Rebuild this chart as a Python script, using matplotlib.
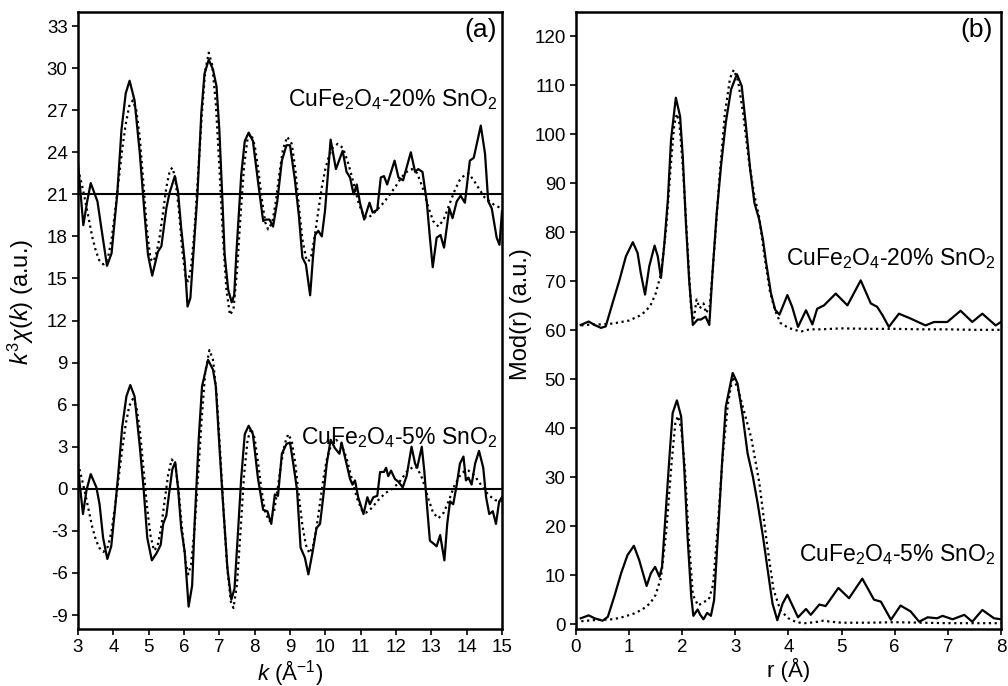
import numpy as np
import matplotlib
matplotlib.use("Agg")
import matplotlib.pyplot as plt

plt.rcParams['font.family'] = ['Liberation Sans', 'DejaVu Sans']
plt.rcParams['mathtext.fontset'] = 'custom'
plt.rcParams['mathtext.rm'] = 'Liberation Sans'
plt.rcParams['mathtext.it'] = 'Liberation Sans:italic'
plt.rcParams['axes.unicode_minus'] = False

"""Panel (a): k^3 chi(k), 20% curve shifted up by 21"""
offset20 = 21

k20_exp = [3.0, 3.15, 3.26, 3.36, 3.55, 3.66, 3.82, 3.95, 4.04, 4.11, 4.23, 4.35, 4.46, 4.6, 4.75, 4.87,
           4.98, 5.1, 5.26, 5.36, 5.5, 5.59, 5.74, 5.83, 5.92, 6.02, 6.1, 6.18, 6.25, 6.38, 6.49, 6.58,
           6.7, 6.82, 6.92, 7.0, 7.08, 7.15, 7.25, 7.35, 7.42, 7.48, 7.62, 7.72, 7.83, 7.95, 8.09, 8.24,
           8.33, 8.42, 8.52, 8.64, 8.77, 8.9, 9.0, 9.14, 9.25, 9.35, 9.45, 9.57, 9.65, 9.71, 9.8, 9.9,
           9.99, 10.15, 10.3, 10.49, 10.6, 10.7, 10.8, 10.89, 10.98, 11.1, 11.25, 11.34, 11.47, 11.57,
           11.66, 11.75, 11.96, 12.07, 12.2, 12.42, 12.54, 12.63, 12.75, 12.87, 12.96, 13.04, 13.15,
           13.26, 13.36, 13.51, 13.6, 13.72, 13.83, 13.95, 14.09, 14.2, 14.4, 14.52, 14.61, 14.71,
           14.85, 14.93, 15.0]
chi20_exp = [23.2, 18.8, 20.5, 21.8, 20.5, 18.6, 15.9, 16.8, 19.2, 21.0, 25.6, 28.2, 29.1, 27.7, 23.9,
             20.0, 16.7, 15.2, 16.9, 17.3, 20.0, 21.1, 22.3, 21.2, 18.6, 16.2, 13.0, 13.6, 16.2, 21.0,
             26.8, 29.6, 30.6, 29.9, 28.7, 25.6, 21.0, 16.7, 14.2, 13.3, 13.8, 16.7, 22.4, 24.8, 25.4,
             24.8, 22.0, 19.1, 19.2, 19.2, 18.7, 20.5, 23.4, 24.5, 24.5, 22.0, 19.5, 16.5, 16.0, 13.8,
             16.5, 18.1, 18.4, 18.0, 19.8, 24.9, 22.8, 24.1, 22.6, 22.2, 21.0, 21.7, 20.4, 19.2, 20.4,
             19.7, 19.9, 22.2, 22.3, 21.7, 23.4, 22.2, 22.0, 24.0, 22.6, 22.8, 22.6, 20.5, 17.9, 15.8,
             17.9, 18.1, 17.2, 20.0, 19.3, 20.5, 20.9, 20.4, 23.4, 23.6, 25.9, 23.9, 20.5, 20.0, 17.9,
             17.4, 19.8]

k20_fit = [3.0, 3.1, 3.2, 3.3, 3.4, 3.5, 3.6, 3.72, 3.85, 3.95, 4.05, 4.15, 4.25, 4.35, 4.45, 4.55,
           4.65, 4.75, 4.85, 4.95, 5.05, 5.12, 5.2, 5.3, 5.4, 5.5, 5.6, 5.67, 5.75, 5.85, 5.95, 6.05,
           6.12, 6.2, 6.3, 6.4, 6.5, 6.6, 6.7, 6.8, 6.9, 7.0, 7.1, 7.2, 7.3, 7.4, 7.5, 7.6, 7.7, 7.8,
           7.9, 8.0, 8.1, 8.2, 8.3, 8.38, 8.5, 8.6, 8.7, 8.8, 8.92, 9.05, 9.15, 9.25, 9.35, 9.45, 9.52,
           9.6, 9.7, 9.8, 9.9, 10.0, 10.1, 10.2, 10.35, 10.5, 10.65, 10.8, 10.95, 11.1, 11.2, 11.35,
           11.5, 11.65, 11.8, 12.0, 12.15, 12.3, 12.45, 12.6, 12.75, 12.9, 13.05, 13.2, 13.35, 13.5,
           13.65, 13.8, 13.95, 14.05, 14.2, 14.35, 14.5, 14.65, 14.8, 15.0]
chi20_fit = [22.8, 21.8, 20.6, 19.3, 18.0, 17.0, 16.3, 16.0, 16.5, 17.8, 19.8, 22.0, 24.2, 26.0, 27.3,
             27.7, 27.0, 25.0, 21.8, 18.5, 16.4, 16.2, 16.6, 17.8, 19.6, 21.5, 22.7, 22.9, 22.2, 20.0,
             17.0, 15.0, 14.8, 15.8, 18.5, 22.5, 26.5, 29.8, 31.1, 30.2, 27.5, 23.0, 18.0, 14.2, 12.4,
             12.8, 15.5, 19.5, 23.0, 25.0, 25.3, 24.5, 22.8, 20.7, 19.0, 18.5, 19.0, 20.5, 22.5, 24.2,
             25.1, 24.6, 22.8, 20.2, 17.8, 16.5, 16.2, 16.6, 18.0, 19.8, 21.5, 22.8, 23.7, 24.3, 24.6,
             24.3, 23.2, 21.8, 20.3, 19.4, 19.3, 19.6, 20.0, 20.4, 20.9, 21.6, 22.2, 22.6, 22.8, 22.5,
             21.5, 20.2, 19.1, 18.7, 19.2, 20.2, 21.2, 22.0, 22.4, 22.5, 22.0, 21.4, 20.8, 20.5, 20.2,
             20.0]

k5_exp = [3.0, 3.14, 3.24, 3.36, 3.52, 3.61, 3.71, 3.83, 3.94, 4.04, 4.13, 4.25, 4.37, 4.48, 4.6,
          4.75, 4.86, 4.96, 5.09, 5.22, 5.34, 5.41, 5.5, 5.59, 5.67, 5.75, 5.83, 5.92, 6.02, 6.13,
          6.23, 6.3, 6.42, 6.51, 6.68, 6.82, 6.9, 7.01, 7.1, 7.23, 7.34, 7.43, 7.53, 7.62, 7.72, 7.83,
          7.95, 8.09, 8.24, 8.36, 8.47, 8.57, 8.66, 8.77, 8.9, 9.0, 9.11, 9.2, 9.3, 9.42, 9.52, 9.64,
          9.75, 9.85, 9.94, 10.04, 10.15, 10.27, 10.4, 10.46, 10.58, 10.7, 10.77, 10.84, 10.93, 11.08,
          11.19, 11.26, 11.36, 11.47, 11.55, 11.66, 11.72, 11.78, 11.86, 11.97, 12.07, 12.19, 12.3,
          12.44, 12.54, 12.6, 12.73, 12.8, 12.89, 12.96, 13.06, 13.15, 13.25, 13.37, 13.45, 13.53,
          13.62, 13.72, 13.81, 13.91, 13.98, 14.05, 14.14, 14.24, 14.35, 14.47, 14.55, 14.64, 14.74,
          14.83, 14.92, 15.0]
chi5_exp = [1.5, -1.8, -0.1, 1.05, 0.1, -1.1, -3.5, -5.0, -4.1, -1.6, 0.8, 4.4, 6.6, 7.4, 6.6, 3.0,
            -0.1, -3.5, -5.1, -4.6, -4.0, -2.5, -1.9, -0.1, 1.4, 1.9, 0.1, -2.8, -4.5, -8.4, -6.9,
            -2.5, 3.7, 7.3, 9.2, 8.5, 7.3, 2.7, -0.9, -5.7, -7.9, -7.1, -3.0, 0.8, 3.9, 4.5, 3.9, 0.8,
            -1.5, -1.6, -2.5, -0.4, -0.5, 2.5, 3.2, 3.3, 1.5, -0.1, -4.2, -4.9, -6.1, -4.5, -2.8, -2.5,
            -0.6, 1.8, 3.5, 2.9, 2.5, 3.3, 2.0, 0.7, 0.3, 0.6, -0.6, -1.8, -0.6, -1.1, -0.6, -0.5, 1.2,
            1.2, 1.5, 0.9, 1.3, 0.7, 0.5, 0.1, 0.9, 3.0, 1.8, 1.5, 3.0, 1.3, -1.6, -3.7, -3.9, -4.1,
            -3.3, -5.1, -2.5, -0.9, -1.1, 0.3, 1.8, 2.3, 0.6, 0.8, 0.3, 1.8, 2.7, 1.5, -0.6, -1.8,
            -1.6, -2.5, -0.9, -0.6]

k5_fit = [3.0, 3.1, 3.2, 3.3, 3.4, 3.5, 3.6, 3.72, 3.85, 3.95, 4.05, 4.15, 4.25, 4.35, 4.45, 4.55,
          4.65, 4.75, 4.85, 4.95, 5.05, 5.15, 5.25, 5.35, 5.45, 5.55, 5.65, 5.75, 5.85, 5.95, 6.05,
          6.12, 6.2, 6.3, 6.4, 6.5, 6.6, 6.72, 6.82, 6.92, 7.02, 7.12, 7.22, 7.32, 7.4, 7.5, 7.6,
          7.7, 7.8, 7.9, 8.0, 8.1, 8.2, 8.3, 8.42, 8.55, 8.65, 8.75, 8.85, 8.95, 9.05, 9.15, 9.25,
          9.35, 9.45, 9.55, 9.65, 9.75, 9.85, 9.95, 10.05, 10.15, 10.3, 10.45, 10.6, 10.75, 10.9,
          11.05, 11.15, 11.3, 11.5, 11.7, 11.9, 12.1, 12.3, 12.5, 12.6, 12.75, 12.9, 13.05, 13.2,
          13.35, 13.5, 13.65, 13.8, 13.95, 14.05, 14.2, 14.35, 14.5, 14.65, 14.8, 15.0]
chi5_fit = [1.8, 0.8, -0.3, -1.5, -2.7, -3.6, -4.2, -4.5, -4.1, -3.0, -1.2, 0.8, 2.8, 4.6, 5.9, 6.4,
            5.9, 4.2, 1.5, -1.2, -3.3, -4.4, -4.1, -2.8, -0.9, 1.0, 2.1, 1.8, -0.2, -3.0, -5.3, -6.1,
            -5.4, -2.8, 1.0, 5.0, 8.3, 9.9, 9.2, 6.8, 2.8, -1.6, -5.5, -8.0, -8.5, -6.8, -3.0, 1.0,
            3.5, 4.3, 3.6, 1.8, -0.2, -1.7, -2.3, -1.6, 0.0, 1.8, 3.2, 3.9, 3.4, 1.8, -0.5, -2.6,
            -4.0, -4.6, -4.1, -2.8, -1.0, 0.8, 2.2, 3.0, 3.5, 3.2, 2.2, 0.7, -0.7, -1.6, -1.7, -1.4,
            -0.8, -0.3, 0.0, 0.5, 1.2, 1.6, 1.5, 0.7, -0.6, -1.7, -2.1, -1.7, -0.8, 0.2, 0.9, 1.3,
            1.3, 1.0, 0.5, -0.1, -0.5, -0.8, -0.9]

"""Panel (b): Mod(r), 20% curve already sits on a 60 baseline"""
r20_exp = [0.09, 0.24, 0.35, 0.47, 0.56, 0.69, 0.82, 0.94, 1.07, 1.16, 1.22, 1.3, 1.38, 1.48, 1.54,
           1.6, 1.66, 1.73, 1.79, 1.88, 1.96, 2.01, 2.07, 2.13, 2.2, 2.29, 2.35, 2.44, 2.51, 2.57,
           2.65, 2.73, 2.82, 2.92, 3.03, 3.12, 3.2, 3.28, 3.36, 3.45, 3.52, 3.58, 3.67, 3.75, 3.83,
           3.92, 3.98, 4.07, 4.18, 4.33, 4.45, 4.54, 4.67, 4.89, 5.11, 5.36, 5.55, 5.67, 5.77, 5.89,
           6.08, 6.3, 6.58, 6.74, 6.99, 7.24, 7.46, 7.65, 7.9, 8.0]
mod20_exp = [61.1, 61.8, 61.1, 60.5, 60.8, 65.6, 70.3, 75.1, 78.0, 75.8, 71.7, 67.3, 73.1, 77.3, 75.1,
             70.7, 77.2, 86.7, 99.0, 107.5, 103.7, 95.6, 81.9, 70.3, 61.1, 62.2, 62.2, 62.8, 61.1,
             71.7, 84.0, 93.5, 102.4, 109.2, 112.3, 109.9, 101.7, 92.8, 86.0, 82.6, 78.5, 73.8, 67.6,
             64.2, 63.2, 65.6, 67.2, 64.8, 60.7, 64.1, 61.2, 64.4, 65.1, 67.5, 65.1, 70.2, 65.5, 64.8,
             63.1, 60.7, 63.4, 62.4, 61.0, 61.7, 61.7, 64.0, 61.7, 63.4, 61.0, 61.7]

r20_fit = [0.1, 0.3, 0.5, 0.7, 0.9, 1.0, 1.1, 1.2, 1.3, 1.4, 1.5, 1.6, 1.7, 1.78, 1.85, 1.9, 1.95,
           2.02, 2.1, 2.17, 2.22, 2.27, 2.33, 2.4, 2.45, 2.52, 2.6, 2.7, 2.8, 2.9, 2.97, 3.05, 3.15,
           3.25, 3.35, 3.45, 3.55, 3.65, 3.75, 3.85, 4.0, 4.15, 4.25, 4.4, 4.6, 5.0, 5.5, 6.0, 6.5,
           7.0, 7.5, 8.0]
mod20_fit = [61.0, 61.2, 61.2, 61.4, 61.8, 62.0, 62.5, 63.0, 63.8, 65.0, 67.5, 71.5, 81.0, 93.0,
             102.0, 104.2, 102.0, 92.0, 77.0, 64.0, 62.5, 66.3, 64.5, 65.5, 63.5, 65.0, 76.0, 91.0,
             104.0, 111.5, 113.2, 111.0, 104.0, 95.0, 88.0, 83.0, 75.0, 68.0, 64.0, 61.5, 60.5, 60.0,
             59.8, 60.2, 60.2, 60.4, 60.3, 60.3, 60.2, 60.2, 60.1, 60.1]

r5_exp = [0.09, 0.24, 0.35, 0.5, 0.6, 0.72, 0.85, 0.97, 1.09, 1.19, 1.33, 1.41, 1.49, 1.57, 1.62,
          1.68, 1.76, 1.82, 1.9, 1.98, 2.04, 2.1, 2.17, 2.21, 2.29, 2.34, 2.4, 2.47, 2.54, 2.6, 2.67,
          2.75, 2.82, 2.95, 3.04, 3.14, 3.23, 3.33, 3.42, 3.52, 3.61, 3.7, 3.79, 3.89, 3.98, 4.18,
          4.33, 4.42, 4.58, 4.7, 4.94, 5.14, 5.39, 5.61, 5.74, 5.93, 6.11, 6.3, 6.46, 6.62, 6.8,
          6.9, 7.09, 7.31, 7.46, 7.65, 7.87, 8.0]
mod5_exp = [1.2, 1.8, 1.2, 0.7, 1.5, 5.6, 10.4, 14.1, 16.0, 13.1, 7.8, 10.4, 11.7, 9.7, 11.7, 21.3,
            34.2, 43.1, 45.7, 42.4, 31.5, 17.9, 5.6, 1.7, 3.0, 1.9, 1.0, 2.3, 1.7, 4.9, 17.9, 32.9,
            44.4, 51.3, 49.2, 42.4, 34.9, 30.1, 24.7, 17.9, 11.0, 4.2, 0.8, 4.2, 6.0, 1.4, 3.1, 1.9,
            4.0, 3.7, 7.4, 5.3, 9.3, 5.0, 4.6, 0.9, 3.8, 2.6, 0.5, 1.4, 1.2, 1.7, 1.0, 1.9, 0.5, 2.9,
            1.2, 1.0]

r5_fit = [0.1, 0.3, 0.5, 0.7, 0.9, 1.1, 1.25, 1.4, 1.5, 1.6, 1.7, 1.8, 1.87, 1.92, 1.98, 2.05,
          2.12, 2.2, 2.3, 2.4, 2.5, 2.58, 2.67, 2.76, 2.86, 2.95, 3.05, 3.15, 3.3, 3.45, 3.6, 3.72,
          3.85, 4.0, 4.15, 4.3, 4.5, 4.65, 4.8, 5.0, 5.5, 6.0, 6.5, 7.0, 7.5, 8.0]
mod5_fit = [0.6, 0.8, 0.9, 1.0, 1.5, 2.2, 3.0, 4.3, 6.0, 9.5, 19.0, 33.0, 41.0, 42.5, 40.0, 32.0,
            18.0, 6.0, 3.8, 4.5, 5.0, 8.0, 20.0, 34.0, 45.0, 50.5, 48.0, 44.0, 38.0, 29.0, 16.0, 7.0,
            2.8, 1.2, 0.4, 0.2, 0.4, 0.7, 0.5, 0.3, 0.3, 0.4, 0.3, 0.2, 0.2, 0.2]

fig = plt.figure(figsize=(10.08, 6.86), dpi=100)
ax1 = fig.add_axes([0.0774, 0.083, 0.4206, 0.8995])
ax2 = fig.add_axes([0.5714, 0.083, 0.4216, 0.8995])

lw = 1.6
dots = (0, (1, 1.6))
"""Left panel"""
ax1.axhline(offset20, color='black', lw=1.5)
ax1.axhline(0, color='black', lw=1.5)
ax1.plot(k20_fit, chi20_fit, color='black', lw=1.6, ls=dots)
ax1.plot(k20_exp, chi20_exp, color='black', lw=lw)
ax1.plot(k5_fit, chi5_fit, color='black', lw=1.6, ls=dots)
ax1.plot(k5_exp, chi5_exp, color='black', lw=lw)
ax1.set_xlim(3, 15)
ax1.set_ylim(-10, 34)
ax1.set_xticks(range(3, 16))
ax1.set_yticks(range(-9, 34, 3))
ax1.set_xlabel(r'$k$ (Å$^{-1}$)', fontsize=16, labelpad=1)
ax1.set_ylabel(r'$k^3\chi(k)$ (a.u.)', fontsize=17)
ax1.yaxis.set_label_coords(-0.1, 0.53)
ax1.text(0.988, 0.971, '(a)', transform=ax1.transAxes, ha='right', va='center', fontsize=19)
ax1.text(0.988, 0.858, r'CuFe$_2$O$_4$-20% SnO$_2$', transform=ax1.transAxes,
         ha='right', va='center', fontsize=16.5)
ax1.text(0.988, 0.311, r'CuFe$_2$O$_4$-5% SnO$_2$', transform=ax1.transAxes,
         ha='right', va='center', fontsize=16.5)

"""Right panel"""
ax2.plot(r20_fit, mod20_fit, color='black', lw=1.6, ls=dots)
ax2.plot(r20_exp, mod20_exp, color='black', lw=lw)
ax2.plot(r5_fit, mod5_fit, color='black', lw=1.6, ls=dots)
ax2.plot(r5_exp, mod5_exp, color='black', lw=lw)
ax2.set_xlim(0, 8)
ax2.set_ylim(-1, 125)
ax2.set_xticks(range(0, 9))
ax2.set_yticks(range(0, 121, 10))
ax2.set_xlabel('r (Å)', fontsize=16, labelpad=1)
ax2.set_ylabel('Mod(r) (a.u.)', fontsize=17)
ax2.yaxis.set_label_coords(-0.104, 0.51)
ax2.text(0.981, 0.971, '(b)', transform=ax2.transAxes, ha='right', va='center', fontsize=19)
ax2.text(0.986, 0.601, r'CuFe$_2$O$_4$-20% SnO$_2$', transform=ax2.transAxes,
         ha='right', va='center', fontsize=16.5)
ax2.text(0.986, 0.12, r'CuFe$_2$O$_4$-5% SnO$_2$', transform=ax2.transAxes,
         ha='right', va='center', fontsize=16.5)

for ax in (ax1, ax2):
    for s in ax.spines.values():
        s.set_linewidth(1.8)
    ax.tick_params(direction='out', length=4, width=1.2, labelsize=13.5, top=False, right=False)

fig.savefig('out.png', dpi=100)
